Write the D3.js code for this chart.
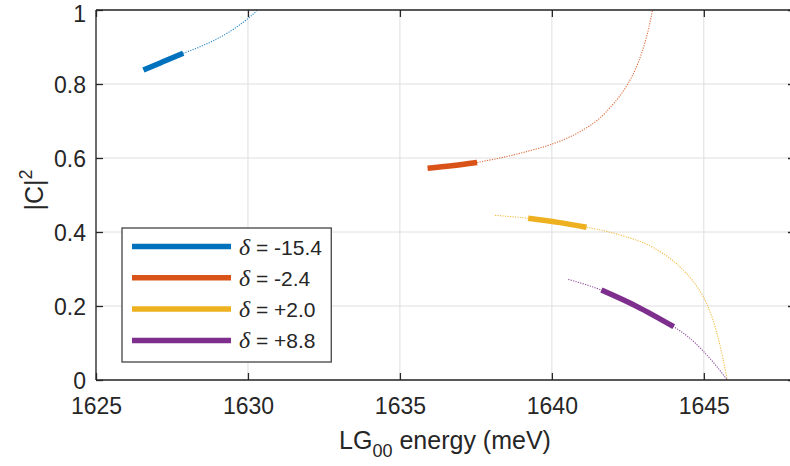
<!DOCTYPE html>
<html>
<head>
<meta charset="utf-8">
<script src="https://cdn.jsdelivr.net/npm/d3@7"></script>
<style>
  body { margin: 0; background: #fff; }
  svg { display: block; }
  text { font-family: "Liberation Sans", Arial, Helvetica, sans-serif; fill: #262626; }
</style>
</head>
<body>
<svg id="chart" width="790" height="466"></svg>
<script>
// ---- data ----
const xTicks = [1625, 1630, 1635, 1640, 1645];
const yTicks = [0, 0.2, 0.4, 0.6, 0.8, 1];
const yTickLabels = ["0", "0.2", "0.4", "0.6", "0.8", "1"];
const seriesNames = ["-15.4", "-2.4", "+2.0", "+8.8"];
const seriesColors = ["#0072BD", "#D95319", "#EDB120", "#7E2F8E"];

// thin dotted curves [energy meV, |C|^2]
const thinBlue = [[1627.87,0.883],[1628.86,0.917],[1629.41,0.942],[1630.0,0.977],[1630.32,1.0]];
const thinOrange = [[1637.54,0.588],[1638.29,0.600],[1639.2,0.618],[1640.02,0.638],[1640.92,0.671],[1641.58,0.708],[1642.01,0.745],[1642.46,0.795],[1642.75,0.840],[1642.96,0.885],[1643.09,0.920],[1643.2,0.955],[1643.31,1.0]];
const thinYellow = [[1638.13,0.445],[1639.22,0.437],[1641.14,0.413],[1642.24,0.392],[1643.33,0.358],[1644.21,0.306],[1644.76,0.254],[1645.09,0.207],[1645.42,0.130],[1645.63,0.058],[1645.77,0.0]];
const thinPurple = [[1640.54,0.272],[1641.63,0.243],[1642.79,0.199],[1644.01,0.144],[1644.54,0.113],[1644.98,0.078],[1645.42,0.037],[1645.77,0.0]];

// thick solid segments
const thickBlue = [[1626.56,0.838],[1627.2,0.860],[1627.87,0.883]];
const thickOrange = [[1635.91,0.572],[1636.7,0.579],[1637.54,0.588]];
const thickYellow = [[1639.22,0.437],[1640.2,0.426],[1641.14,0.413]];
const thickPurple = [[1641.63,0.243],[1642.79,0.199],[1644.01,0.144]];

const thinSeries = [thinBlue, thinOrange, thinYellow, thinPurple];
const thickSeries = [thickBlue, thickOrange, thickYellow, thickPurple];

// ---- layout ----
const svg = d3.select("#chart");
const pl = 96, pr = 795, pt = 10, pb = 380;
const x = d3.scaleLinear().domain([1625, 1648]).range([pl, pr]);
const y = d3.scaleLinear().domain([0, 1]).range([pb, pt]);
const axisColor = "#262626";

// grid
const grid = svg.append("g");
grid.selectAll("line.gx").data(xTicks).join("line")
  .attr("x1", d => x(d)).attr("x2", d => x(d)).attr("y1", pt).attr("y2", pb)
  .attr("stroke", "#dedede").attr("stroke-width", 1);
grid.selectAll("line.gy").data(yTicks).join("line")
  .attr("x1", pl).attr("x2", pr).attr("y1", d => y(d)).attr("y2", d => y(d))
  .attr("stroke", "#dedede").attr("stroke-width", 1);

// curves
const line = d3.line().x(d => x(d[0])).y(d => y(d[1])).curve(d3.curveMonotoneX);
const curves = svg.append("g");
thinSeries.forEach((s, i) => {
  curves.append("path").attr("d", line(s)).attr("fill", "none")
    .attr("stroke", seriesColors[i]).attr("stroke-width", 1.1)
    .attr("stroke-dasharray", "1.2,1.3").attr("opacity", 0.85);
});
thickSeries.forEach((s, i) => {
  curves.append("path").attr("d", line(s)).attr("fill", "none")
    .attr("stroke", seriesColors[i]).attr("stroke-width", 5.5);
});

// axes (box with inward ticks)
const tickLen = 7;
const axes = svg.append("g");
const bottomAxis = d3.axisBottom(x).tickValues(xTicks).tickSize(-tickLen).tickPadding(18).tickFormat(d3.format("d"));
const topAxis = d3.axisTop(x).tickValues(xTicks).tickSize(-tickLen).tickFormat("");
const leftAxis = d3.axisLeft(y).tickValues(yTicks).tickSize(-tickLen).tickPadding(10).tickFormat((d, i) => yTickLabels[i]);
const rightAxis = d3.axisRight(y).tickValues(yTicks).tickSize(-tickLen).tickFormat("");

function style(g) {
  g.selectAll("path.domain").attr("stroke", axisColor).attr("stroke-width", 1.3);
  g.selectAll(".tick line").attr("stroke", axisColor).attr("stroke-width", 1.3);
  g.selectAll(".tick text").attr("fill", axisColor).style("font-size", "23px")
    .style("font-family", '"Liberation Sans", Arial, sans-serif');
}
axes.append("g").attr("transform", `translate(0,${pb})`).call(bottomAxis).call(g => g.select("path.domain").attr("d", `M${pl},0H${pr}`)).call(style);
axes.append("g").attr("transform", `translate(0,${pt})`).call(topAxis).call(g => g.select("path.domain").attr("d", `M${pl},0H${pr}`)).call(style);
axes.append("g").attr("transform", `translate(${pl},0)`).call(leftAxis).call(g => g.select("path.domain").attr("d", `M0,${pt}V${pb}`)).call(style)
  .call(g => g.selectAll(".tick text").attr("dy", d => d === 1 ? "0.5em" : "0.36em"));
axes.append("g").attr("transform", `translate(${pr},0)`).call(rightAxis).call(g => g.select("path.domain").attr("d", `M0,${pt}V${pb}`)).call(style);

// axis labels
const xl = svg.append("text").attr("x", 445).attr("y", 449).attr("text-anchor", "middle")
  .style("font-size", "25px");
xl.append("tspan").text("LG");
xl.append("tspan").text("00").style("font-size", "18px").attr("dy", 8);
xl.append("tspan").text(" energy (meV)").attr("dy", -8);

const yl = svg.append("text").attr("transform", "translate(43,190) rotate(-90)")
  .attr("text-anchor", "middle").style("font-size", "25px");
yl.append("tspan").text("|C|");
yl.append("tspan").text("2").style("font-size", "18px").attr("dy", -11);

// legend
const lg = svg.append("g");
const box = lg.append("rect").attr("x", 122).attr("y", 228).attr("height", 134)
  .attr("fill", "#fff").attr("stroke", "#444").attr("stroke-width", 1.3);
const rowY = i => 246.5 + i * 31.3;
let maxR = 0;
seriesNames.forEach((n, i) => {
  lg.append("line").attr("x1", 132).attr("x2", 231).attr("y1", rowY(i)).attr("y2", rowY(i))
    .attr("stroke", seriesColors[i]).attr("stroke-width", 5.5);
  const t = lg.append("text").attr("x", 239).attr("y", rowY(i) + 8).style("font-size", "21px");
  t.append("tspan").text("δ").style("font-style", "italic").style("font-family", '"Liberation Serif", "Times New Roman", serif').style("font-size", "24px");
  t.append("tspan").text(" = " + n);
  const bb = t.node().getBBox();
  maxR = Math.max(maxR, bb.x + bb.width);
});
box.attr("width", maxR + 9 - 122);
</script>
</body>
</html>
